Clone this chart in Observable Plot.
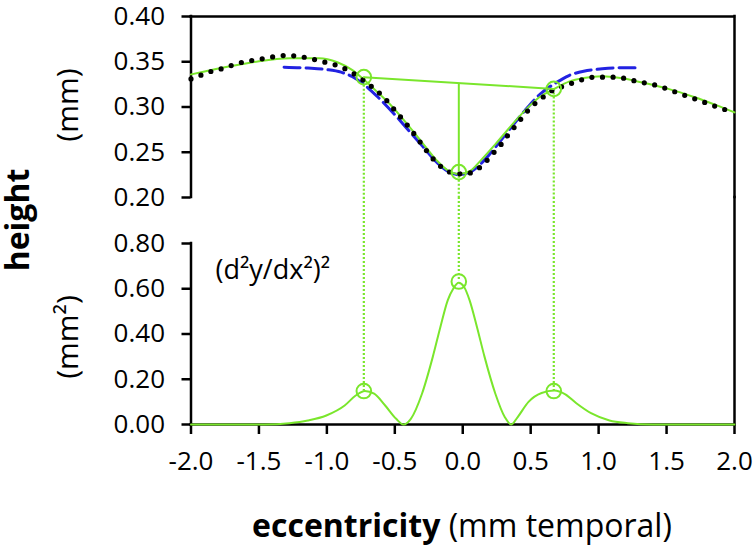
<!DOCTYPE html>
<html><head><meta charset="utf-8">
<script src="https://cdn.jsdelivr.net/npm/d3@7"></script>
<script src="https://cdn.jsdelivr.net/npm/@observablehq/plot@0.6"></script>
<style>
body{margin:0;background:#fff}
#wrap{position:relative;width:755px;height:555px;font-family:"Open Sans",sans-serif;background:#fff}
#wrap > svg{position:absolute;left:0;top:0;background:transparent}
</style></head><body><div id="wrap"></div>
<script>
// ---- data ----
const xTicks = [-2, -1.5, -1, -0.5, 0, 0.5, 1, 1.5, 2];
const topTicks = [0.2, 0.25, 0.3, 0.35, 0.4];
const botTicks = [0, 0.2, 0.4, 0.6, 0.8];

// measured profile (black dotted)
const measX = [-2.0,-1.911,-1.838,-1.756,-1.681,-1.605,-1.526,-1.448,-1.369,-1.288,-1.212,-1.134,-1.055,-0.977,-0.904,-0.828,-0.761,-0.701,-0.633,-0.571,-0.509,-0.447,-0.387,-0.327,-0.268,-0.208,-0.143,-0.070,0.011,0.084,0.154,0.219,0.284,0.344,0.409,0.468,0.533,0.601,0.668,0.742,0.817,0.896,0.974,1.053,1.129,1.210,1.288,1.364,1.445,1.521,1.594,1.670,1.746,1.819,1.892,2.0];
const measY = [0.331,0.336,0.340,0.343,0.347,0.350,0.352,0.354,0.356,0.357,0.356,0.354,0.351,0.348,0.345,0.339,0.333,0.326,0.318,0.309,0.298,0.287,0.276,0.264,0.252,0.241,0.232,0.227,0.226,0.229,0.237,0.248,0.259,0.271,0.283,0.294,0.304,0.312,0.319,0.323,0.327,0.331,0.333,0.333,0.333,0.331,0.328,0.326,0.323,0.319,0.315,0.311,0.307,0.303,0.299,0.294];

// fitted profile (green solid)
const fitX = [-2.0,-1.816,-1.545,-1.275,-1.058,-0.923,-0.815,-0.733,-0.625,-0.517,-0.409,-0.300,-0.192,-0.111,-0.030,0.051,0.133,0.241,0.349,0.457,0.566,0.674,0.782,0.890,1.026,1.161,1.323,1.513,1.702,1.865,2.0];
const fitY = [0.336,0.342,0.3495,0.354,0.354,0.3495,0.341,0.331,0.316,0.300,0.281,0.261,0.241,0.230,0.226,0.229,0.241,0.259,0.278,0.296,0.311,0.320,0.328,0.332,0.334,0.332,0.327,0.320,0.311,0.302,0.294];

// model profile (blue dashed)
const modelX = [-1.315,-1.139,-1.004,-0.896,-0.815,-0.733,-0.625,-0.517,-0.409,-0.300,-0.192,-0.111,-0.030,0.051,0.133,0.241,0.349,0.457,0.566,0.674,0.782,0.890,1.026,1.161,1.269];
const modelY = [0.344,0.343,0.3414,0.3385,0.3337,0.3256,0.311,0.2943,0.276,0.2575,0.239,0.229,0.2254,0.228,0.2372,0.2556,0.276,0.296,0.3138,0.3256,0.3348,0.3396,0.3422,0.3433,0.3433];

// squared second derivative (bottom, green)
const curvX = [-2.0,-1.46,-1.275,-1.14,-1.004,-0.869,-0.788,-0.72,-0.652,-0.571,-0.49,-0.436,-0.382,-0.30,-0.22,-0.165,-0.11,-0.07,-0.03,0.01,0.05,0.105,0.16,0.24,0.31,0.357,0.403,0.484,0.58,0.674,0.755,0.836,0.944,1.08,1.215,1.40,2.0];
const curvY = [0,0,0.006,0.018,0.04,0.084,0.128,0.148,0.136,0.084,0.025,0,0.025,0.136,0.30,0.43,0.55,0.60,0.626,0.608,0.55,0.43,0.30,0.136,0.032,0,0.032,0.10,0.139,0.15,0.133,0.094,0.05,0.018,0.006,0,0];

// peaks / markers
const peakX = [-0.728, -0.029, 0.670];
const peakTopY = [0.333, 0.228, 0.320];
const peakBotY = [0.148, 0.632, 0.148];
const chordMidY = 0.326;
const curvLabel = "(d²y/dx²)²";
const curvLabelX = -1.82, curvLabelY = 0.645;

// ---- layout ----
const W = 755, H = 555, mL = 190.5, mR = 21, mT = 16, panelH = 181, gap = 46;
const green = "#7ae62c", blue = "#2222e2";
const rows = (xs, ys) => xs.map((x, i) => ({x, y: ys[i]}));
const axisW = 2.5;
const baseStyle = {fontFamily: "Open Sans", fontSize: "26px", color: "black", background: "transparent", overflow: "visible"};

const topPlot = Plot.plot({
  width: W, height: H,
  marginLeft: mL, marginRight: mR, marginTop: mT, marginBottom: H - mT - panelH,
  x: {domain: [-2, 2], axis: null},
  y: {domain: [0.2, 0.4]},
  style: baseStyle,
  marks: [
    Plot.axisY({ticks: topTicks, tickFormat: d => d.toFixed(2), tickSize: 9, tickPadding: 17, strokeWidth: axisW, label: null, fontSize: 26}),
    Plot.ruleX([-2], {strokeWidth: axisW, strokeLinecap: "square"}),
    Plot.ruleY([0.4], {strokeWidth: axisW, strokeLinecap: "square"}),
    Plot.ruleX([2], {strokeWidth: axisW, strokeLinecap: "square"}),
    Plot.ruleX(rows(peakX, peakTopY), {x: "x", y1: "y", y2: 0.2, stroke: green, strokeWidth: 2.2, strokeDasharray: "2,2"}),
    Plot.line(rows(modelX, modelY), {x: "x", y: "y", stroke: blue, strokeWidth: 3, strokeDasharray: "16,6", curve: "monotone-x"}),
    Plot.line(rows(fitX, fitY), {x: "x", y: "y", stroke: green, strokeWidth: 2, curve: "monotone-x"}),
    Plot.line(rows(measX, measY), {x: "x", y: "y", stroke: "black", strokeWidth: 5.2, strokeDasharray: "0,10.6", strokeLinecap: "round", curve: "monotone-x"}),
    Plot.line(rows([peakX[0], peakX[2]], [peakTopY[0], peakTopY[2]]), {x: "x", y: "y", stroke: green, strokeWidth: 2}),
    Plot.ruleX([peakX[1]], {y1: chordMidY, y2: peakTopY[1], stroke: green, strokeWidth: 2}),
    Plot.dot(rows(peakX, peakTopY), {x: "x", y: "y", r: 7.3, stroke: green, strokeWidth: 2, fill: "none"})
  ]
});

const botPlot = Plot.plot({
  width: W, height: H,
  marginLeft: mL, marginRight: mR, marginTop: mT + panelH + gap, marginBottom: H - (mT + panelH + gap) - panelH,
  x: {domain: [-2, 2]},
  y: {domain: [0, 0.8]},
  style: baseStyle,
  marks: [
    Plot.axisY({ticks: botTicks, tickFormat: d => d.toFixed(2), tickSize: 9, tickPadding: 17, strokeWidth: axisW, label: null, fontSize: 26}),
    Plot.axisX({ticks: xTicks, tickFormat: d => d.toFixed(1), tickSize: 10, tickPadding: 17, strokeWidth: axisW, label: null, fontSize: 26}),
    Plot.ruleX([-2], {strokeWidth: axisW, strokeLinecap: "square"}),
    Plot.ruleY([0], {strokeWidth: axisW, strokeLinecap: "square"}),
    Plot.ruleX([2], {y1: 0.8, y2: 0, insetTop: -gap, strokeWidth: axisW, strokeLinecap: "square"}),
    Plot.ruleX(rows(peakX, peakBotY), {x: "x", y1: 0.8, y2: "y", insetTop: -gap, stroke: green, strokeWidth: 2.2, strokeDasharray: "2,2"}),
    Plot.line(rows(curvX, curvY), {x: "x", y: "y", stroke: green, strokeWidth: 2, curve: "monotone-x"}),
    Plot.dot(rows(peakX, peakBotY), {x: "x", y: "y", r: 7.3, stroke: green, strokeWidth: 2, fill: "none"}),
    Plot.text([curvLabel], {x: curvLabelX, y: curvLabelY, text: d => d, textAnchor: "start", lineAnchor: "bottom", fontSize: 27, fill: "black"})
  ]
});

// titles
const titles = d3.create("svg").attr("width", W).attr("height", H)
  .style("font-family", "'Open Sans', sans-serif").attr("fill", "black");
titles.append("text").attr("transform", "translate(29,220) rotate(-90)").attr("text-anchor", "middle")
  .attr("font-weight", "bold").attr("font-size", 32).text("height");
titles.append("text").attr("transform", "translate(78,105) rotate(-90)").attr("text-anchor", "middle")
  .attr("font-size", 30).text("(mm)");
titles.append("text").attr("transform", "translate(78,337) rotate(-90)").attr("text-anchor", "middle")
  .attr("font-size", 30).text("(mm²)");
const xt = titles.append("text").attr("x", 462).attr("y", 537).attr("text-anchor", "middle").attr("font-size", 32);
xt.append("tspan").attr("font-weight", "bold").text("eccentricity");
xt.append("tspan").text(" (mm temporal)");

const wrap = document.getElementById("wrap");
wrap.appendChild(titles.node());
wrap.appendChild(botPlot);
wrap.appendChild(topPlot);
</script></body></html>
